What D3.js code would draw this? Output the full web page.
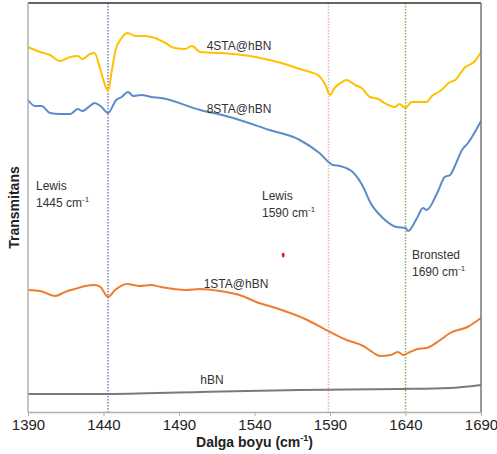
<!DOCTYPE html>
<html lang="en">
<head>
<meta charset="UTF-8">
<title>FTIR pyridine - STA@hBN</title>
<style>
  body { margin: 0; background: #fff; }
  text { font-family: "Liberation Sans", Arial, sans-serif; }
</style>
</head>
<body>
<script src="https://cdn.jsdelivr.net/npm/d3@7"></script>
<script>
// data (y in arbitrary transmittance units)
const xTicks = [1390, 1440, 1490, 1540, 1590, 1640, 1690];

const wn4 = [1390,1398,1404.6,1411,1418,1423,1426,1431,1434,1438,1441,1443,1445.6,1448,1452,1456,1461,1467.5,1474,1481,1487,1494,1498.6,1504,1517,1537,1550,1560,1570,1577,1582,1587,1590,1593,1597,1601,1606.6,1611,1616.5,1622,1626,1633,1636,1640,1644,1650,1654,1657.5,1663,1669.5,1673,1679,1686,1690];
const sta4 = [365,360,357,351,355,356,353,358,359,342,327,321,342,362,374,379,376,376,374,369,364,363,366,360,359,356,352,348,343,340,337,327,317,324,329,332,327,324,315,313,309,305,308,304,310,310,310,316,321,330,332,344,351,360];

const wn8 = [1390,1394.6,1399,1404.6,1411,1418,1423,1426,1431,1434,1438,1443,1448.4,1452,1456.3,1459.6,1465,1471.5,1478,1504,1523.5,1550,1570,1583,1592,1596.6,1605,1612,1616.5,1625,1634,1640,1641.7,1647.6,1651.6,1654,1661,1666,1669.5,1673,1677.4,1681.4,1690];
const sta8 = [312,306,306,299,298,298,303,301,306,309,306,299,312,315,320,316,317,315,314,302,295,282,272,259,247,246,240,225,210,194,185,184,181,194,204,202,219,235,237,247,262,269,291];

const wn1 = [1390,1398,1408,1414.6,1421,1428,1434.4,1438,1443,1447.7,1455.6,1464,1471.5,1478,1494.6,1504,1517,1530,1543,1552,1575,1590,1601,1612,1619,1623,1630,1635,1638.5,1643,1648,1654,1663,1669.5,1681,1690];
const sta1 = [122,121,116,120,123,126,127,125,115,122,128,126,127,125,122,123,121,117,109,105,92,80,72,66,59,56,57,60,57,60,63,64,72,79,85,94];

const wnB = [1390,1438,1504,1535,1570,1636,1669,1690];
const hbn = [18,18,20,21,22,23,24,27];

const peaks = [1443, 1589, 1640];
const peakColors = ["#8479b8", "#e6b3b8", "#8fae55"];

const W = 497, H = 454;
const margin = {top: 3, right: 16, bottom: 42, left: 28};

const svg = d3.select("body").append("svg")
    .attr("width", W).attr("height", H);

const x = d3.scaleLinear().domain([1390, 1690])
    .range([margin.left, W - margin.right]);
const y = d3.scaleLinear().domain([0, 409])
    .range([H - margin.bottom, margin.top]);

// peak markers
peaks.forEach((p, i) => {
    svg.append("line")
        .attr("x1", x(p)).attr("x2", x(p))
        .attr("y1", y(409)).attr("y2", y(0))
        .attr("stroke", peakColors[i])
        .attr("stroke-width", 1.5)
        .attr("stroke-dasharray", "1.5,1.5");
});

const line = d3.line()
    .x(d => x(d[0]))
    .y(d => y(d[1]))
    .curve(d3.curveMonotoneX);

const series = [
    {wn: wnB, v: hbn, color: "#7a7a7a"},
    {wn: wn1, v: sta1, color: "#ed7d31"},
    {wn: wn8, v: sta8, color: "#5b8cc8"},
    {wn: wn4, v: sta4, color: "#ffc000"}
];
series.forEach(s => {
    svg.append("path")
        .datum(d3.zip(s.wn, s.v))
        .attr("d", line)
        .attr("fill", "none")
        .attr("stroke", s.color)
        .attr("stroke-width", 2);
});

// frame
svg.append("line")
    .attr("x1", x(1390)).attr("x2", x(1690))
    .attr("y1", y(409)).attr("y2", y(409))
    .attr("stroke", "#333").attr("stroke-width", 1.5);
svg.append("line")
    .attr("x1", x(1690)).attr("x2", x(1690))
    .attr("y1", y(409)).attr("y2", y(0))
    .attr("stroke", "#777").attr("stroke-width", 1.5);
svg.append("line")
    .attr("x1", x(1390)).attr("x2", x(1390))
    .attr("y1", y(409)).attr("y2", y(0))
    .attr("stroke", "#b0b0b0").attr("stroke-width", 1.5);

const xAxis = svg.append("g")
    .attr("transform", `translate(0,${y(0)})`)
    .call(d3.axisBottom(x).tickValues(xTicks).tickFormat(d3.format("d")).tickSize(4).tickSizeOuter(0));
xAxis.select(".domain").attr("stroke", "#b0b0b0").attr("stroke-width", 1.5);
xAxis.selectAll(".tick line").attr("stroke", "#b0b0b0");
xAxis.selectAll(".tick text")
    .attr("font-size", 15)
    .attr("fill", "#222")
    .attr("dy", "0.71em")
    .style("font-family", "Liberation Sans, Arial, sans-serif");

// axis titles
const xt = svg.append("text")
    .attr("x", (x(1390) + x(1690)) / 2).attr("y", 447)
    .attr("text-anchor", "middle")
    .attr("font-size", 14).attr("font-weight", "bold").attr("fill", "#222");
xt.append("tspan").text("Dalga boyu (cm");
xt.append("tspan").attr("font-size", 9).attr("dy", -6).text("-1");
xt.append("tspan").attr("dy", 6).text(")");

svg.append("text")
    .attr("transform", `translate(19,${(y(0) + y(409)) / 2}) rotate(-90)`)
    .attr("text-anchor", "middle")
    .attr("font-size", 14).attr("font-weight", "bold").attr("fill", "#222")
    .text("Transmitans");

// series labels
const labels = [
    {t: "4STA@hBN", px: 239, py: 50},
    {t: "8STA@hBN", px: 239, py: 113},
    {t: "1STA@hBN", px: 236, py: 288},
    {t: "hBN", px: 212, py: 384}
];
labels.forEach(l => {
    svg.append("text")
        .attr("x", l.px).attr("y", l.py)
        .attr("text-anchor", "middle")
        .attr("font-size", 12).attr("fill", "#333")
        .text(l.t);
});

// peak annotations
const notes = [
    {a: "Lewis", b: "1445 cm", px: 36, py: 190},
    {a: "Lewis", b: "1590 cm", px: 262, py: 200},
    {a: "Bronsted", b: "1690 cm", px: 412, py: 259}
];
notes.forEach(n => {
    svg.append("text")
        .attr("x", n.px).attr("y", n.py)
        .attr("font-size", 12).attr("fill", "#333")
        .text(n.a);
    const t = svg.append("text")
        .attr("x", n.px).attr("y", n.py + 17)
        .attr("font-size", 12).attr("fill", "#333");
    t.append("tspan").text(n.b);
    t.append("tspan").attr("font-size", 8).attr("dy", -5).text("-1");
});

// stray red dot in the original figure
svg.append("ellipse")
    .attr("cx", x(1559)).attr("cy", y(157))
    .attr("rx", 1.5).attr("ry", 2.5)
    .attr("fill", "#e02020");
</script>
</body>
</html>
